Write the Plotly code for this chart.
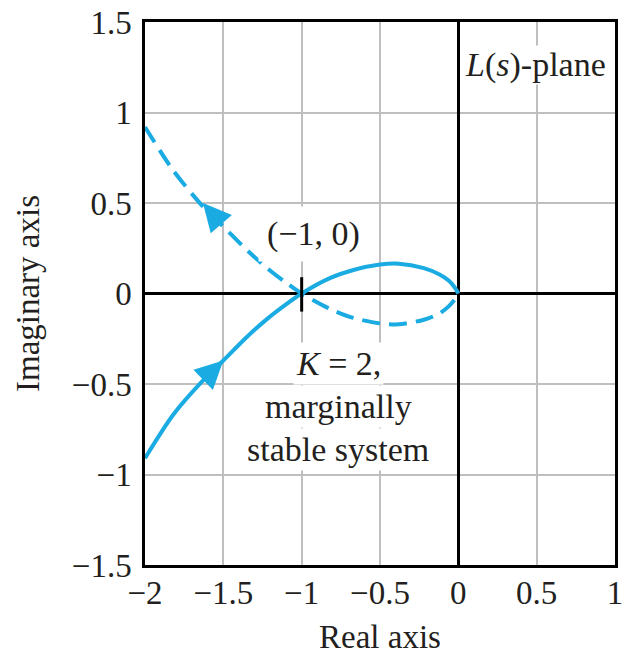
import plotly.graph_objects as go

# Nyquist contour of L(s) for K = 2: real / imaginary parts
solid_re = [-2.0, -1.82, -1.64, -1.5, -1.35, -1.22, -1.1, -1.0, -0.82, -0.67, -0.5, -0.38, -0.22, -0.12, -0.06, -0.02, 0.0]
solid_im = [-0.91, -0.67, -0.49, -0.37, -0.24, -0.14, -0.06, 0.0, 0.085, 0.13, 0.16, 0.165, 0.14, 0.105, 0.07, 0.03, 0.0]

dashed_re = [-2.0, -1.82, -1.64, -1.5, -1.35, -1.22, -1.1, -1.0, -0.82, -0.67, -0.5, -0.38, -0.22, -0.12, -0.06, -0.02, 0.0]
dashed_im = [0.92, 0.68, 0.49, 0.37, 0.24, 0.14, 0.06, 0.0, -0.085, -0.135, -0.165, -0.17, -0.145, -0.11, -0.07, -0.03, 0.0]

# direction arrows: (tail, tip) on each branch
solid_arrow = [(-1.62, -0.47), (-1.50, -0.37)]
dashed_arrow = [(-1.50, 0.37), (-1.63, 0.50)]

tick_vals = [-2, -1.5, -1, -0.5, 0, 0.5, 1]
tick_text = ["\u22122", "\u22121.5", "\u22121", "\u22120.5", "0", "0.5", "1"]
ytick_vals = [-1.5, -1, -0.5, 0, 0.5, 1, 1.5]
ytick_text = ["\u22121.5", "\u22121", "\u22120.5", "0", "0.5", "1", "1.5"]

CYAN = "#19ABE2"
FONT = "Liberation Serif"
TXT = "#231F20"
FS = 33

fig = go.Figure()
fig.add_trace(go.Scatter(
    x=solid_re, y=solid_im, mode="lines",
    line=dict(color=CYAN, width=4, shape="spline", smoothing=0.8),
    hoverinfo="skip", showlegend=False,
))
fig.add_trace(go.Scatter(
    x=dashed_re, y=dashed_im, mode="lines",
    line=dict(color=CYAN, width=4, dash="18px,9px", shape="spline", smoothing=0.8),
    hoverinfo="skip", showlegend=False,
))

annotations = []
for (tail, tip) in (solid_arrow, dashed_arrow):
    annotations.append(dict(
        x=tip[0], y=tip[1], ax=tail[0], ay=tail[1],
        xref="x", yref="y", axref="x", ayref="y",
        text="", showarrow=True, arrowhead=2, arrowsize=1.4,
        arrowwidth=4, arrowcolor=CYAN, standoff=0, startstandoff=0,
    ))

def label(text, x, y, pad=2):
    return dict(
        x=x, y=y, xref="x", yref="y", text=text, showarrow=False,
        font=dict(family=FONT, size=34, color=TXT),
        bgcolor="white", borderpad=pad, xanchor="center", yanchor="middle",
    )

annotations += [
    label("<i>L</i>(<i>s</i>)-plane", 0.492, 1.263, pad=0),
    label("(\u22121, 0)", -0.925, 0.33, pad=8),
    label("<i>K</i> = 2,", -0.766, -0.388),
    label("marginally", -0.766, -0.626),
    label("stable system", -0.766, -0.864),
]

axis_common = dict(
    showgrid=True, gridcolor="#BFBFBF", gridwidth=2,
    zeroline=True, zerolinecolor="black", zerolinewidth=2.5,
    showline=True, linecolor="black", linewidth=2.5, mirror=True,
    ticks="", tickfont=dict(family=FONT, size=FS, color=TXT),
    title_font=dict(family=FONT, size=FS, color=TXT),
)

fig.update_layout(
    width=624, height=657,
    margin=dict(l=145, r=9, t=22, b=92, autoexpand=False),
    paper_bgcolor="white", plot_bgcolor="white",
    font=dict(family=FONT, color=TXT),
    annotations=annotations,
    shapes=[dict(type="line", xref="x", yref="y", x0=-1, x1=-1, y0=-0.1, y1=0.09,
                 line=dict(color="black", width=3))],
    xaxis=dict(range=[-2, 1], tickvals=tick_vals, ticktext=tick_text,
               title=dict(text="Real axis", standoff=15), ticklabelstandoff=-3,
               **axis_common),
    yaxis=dict(range=[-1.5, 1.5], tickvals=ytick_vals, ticktext=ytick_text,
               title=dict(text="Imaginary axis", standoff=23), ticklabelstandoff=4,
               **axis_common),
)

fig.write_html("out.html")
